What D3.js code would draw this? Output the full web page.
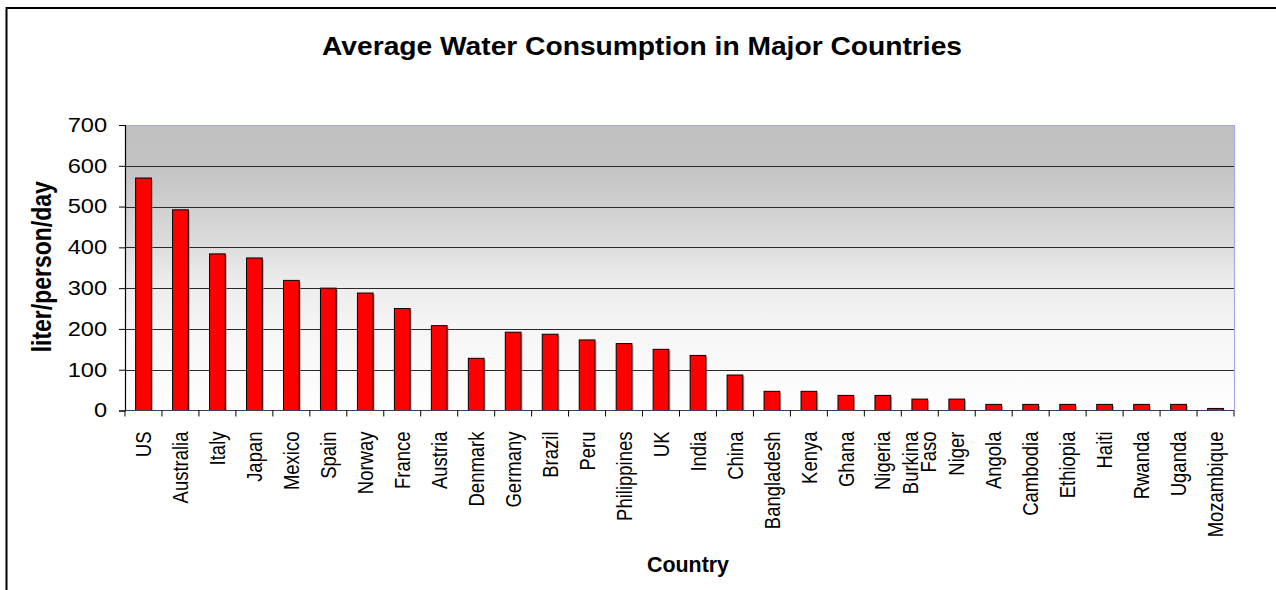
<!DOCTYPE html>
<html>
<head>
<meta charset="utf-8">
<script src="https://cdn.jsdelivr.net/npm/d3@7"></script>
<style>
  body { margin: 0; background: #fff; }
  svg { display: block; font-family: "Liberation Sans", Arial, sans-serif; }
</style>
</head>
<body>
<svg id="chart" width="1276" height="590"></svg>
<script>
// data
const countries = ['US', 'Australia', 'Italy', 'Japan', 'Mexico', 'Spain', 'Norway', 'France',
  'Austria', 'Denmark', 'Germany', 'Brazil', 'Peru', 'Philippines', 'UK', 'India', 'China',
  'Bangladesh', 'Kenya', 'Ghana', 'Nigeria', 'Burkina Faso', 'Niger', 'Angola', 'Cambodia',
  'Ethiopia', 'Haiti', 'Rwanda', 'Uganda', 'Mozambique'];
const litersPerDay = [570, 492, 384, 374, 319, 300, 288, 250, 208, 128, 192, 187, 173, 164,
  150, 135, 87, 47, 47, 37, 37, 28, 28, 15, 15, 15, 15, 15, 15, 5];
const yTicks = [0, 100, 200, 300, 400, 500, 600, 700];

const svg = d3.select('#chart');
const plot = {left: 125, right: 1234, top: 125, bottom: 410.5};
const stretch = 1.18; //the reference text looks a bit wide

//gradient for the plot area
const defs = svg.append('defs');
const grad = defs.append('linearGradient')
  .attr('id', 'bg')
  .attr('x1', 0).attr('y1', 0).attr('x2', 0).attr('y2', 1);
[[0, '#c0c0c0'], [0.15, '#c3c3c3'], [0.4, '#dadada'], [0.55, '#ececec'], [0.75, '#f7f7f7'], [1, '#fefefe']]
  .forEach(s => grad.append('stop').attr('offset', s[0]).attr('stop-color', s[1]));

//outer chart border
svg.append('rect')
  .attr('x', 6.5).attr('y', 8)
  .attr('width', 1290).attr('height', 620)
  .attr('fill', 'none')
  .attr('stroke', '#000')
  .attr('stroke-width', 2);

const x = d3.scaleBand()
  .domain(countries)
  .range([plot.left, plot.right])
  .paddingInner(0)
  .paddingOuter(0);

const y = d3.scaleLinear()
  .domain([0, 700])
  .range([plot.bottom, plot.top]);

svg.append('rect')
  .attr('x', plot.left).attr('y', plot.top)
  .attr('width', plot.right - plot.left)
  .attr('height', plot.bottom - plot.top)
  .attr('fill', 'url(#bg)');

//gridlines
svg.append('g')
  .selectAll('line')
  .data(yTicks.filter(d => d > 0 && d < 700))
  .join('line')
  .attr('x1', plot.left).attr('x2', plot.right)
  .attr('y1', d => Math.round(y(d)) + 0.5).attr('y2', d => Math.round(y(d)) + 0.5)
  .attr('stroke', '#2a2a2a')
  .attr('stroke-width', 1);

//plot area top and right edges (light blue)
svg.append('path')
  .attr('d', `M${plot.left},${plot.top + 0.5}H${plot.right + 0.5}V${plot.bottom}`)
  .attr('fill', 'none')
  .attr('stroke', '#a8a8f0')
  .attr('stroke-width', 1.2);

//bars
const barW = x.bandwidth() * 0.425;
const bars = svg.append('g');
bars.selectAll('rect.shadow')
  .data(countries)
  .join('rect')
  .attr('class', 'shadow')
  .attr('x', d => x(d) + (x.bandwidth() - barW) / 2 + 1.5)
  .attr('y', (d, i) => y(litersPerDay[i]) + 1.5)
  .attr('width', barW)
  .attr('height', (d, i) => plot.bottom - y(litersPerDay[i]) - 1.5)
  .attr('fill', '#8a8a8a')
  .attr('opacity', 0.7);
bars.selectAll('rect.bar')
  .data(countries)
  .join('rect')
  .attr('class', 'bar')
  .attr('x', d => x(d) + (x.bandwidth() - barW) / 2)
  .attr('y', (d, i) => y(litersPerDay[i]))
  .attr('width', barW)
  .attr('height', (d, i) => plot.bottom - y(litersPerDay[i]))
  .attr('fill', '#ff0000')
  .attr('stroke', '#000')
  .attr('stroke-width', 1);

//y axis
const yAxis = svg.append('g')
  .attr('transform', `translate(${plot.left},0)`)
  .call(d3.axisLeft(y).tickValues(yTicks).tickSize(6).tickPadding(12));
yAxis.select('.domain').attr('stroke', '#000').attr('stroke-width', 1.2);
yAxis.selectAll('.tick line').attr('stroke', '#000');
yAxis.selectAll('.tick text')
  .attr('font-size', 20)
  .attr('font-family', '"Liberation Sans", Arial, sans-serif')
  .attr('fill', '#000')
  .attr('lengthAdjust', 'spacingAndGlyphs')
  .each(function() {
    d3.select(this).attr('textLength', this.getComputedTextLength() * stretch);
  });

//x axis, ticks at category boundaries
const xAxis = svg.append('g')
  .attr('transform', `translate(0,${plot.bottom})`);
xAxis.append('line')
  .attr('x1', plot.left).attr('x2', plot.right)
  .attr('stroke', '#3c3c5a').attr('stroke-width', 1.2);
xAxis.selectAll('line.tick')
  .data(countries.concat(['_end']))
  .join('line')
  .attr('class', 'tick')
  .attr('x1', (d, i) => plot.left + i * x.step())
  .attr('x2', (d, i) => plot.left + i * x.step())
  .attr('y1', 0).attr('y2', 6)
  .attr('stroke', '#000');

//rotated category labels, multi word names wrap
const labels = xAxis.selectAll('text.lbl')
  .data(countries)
  .join('text')
  .attr('class', 'lbl')
  .attr('font-size', 18.5)
  .attr('text-anchor', 'end')
  .attr('fill', '#000')
  .attr('transform', d => `translate(${x(d) + x.bandwidth() / 2},21) rotate(-90) scale(1,${stretch})`);
labels.each(function(d) {
  const words = d.split(' ');
  const t = d3.select(this);
  const first = -(words.length - 1) * 0.45;
  words.forEach((w, k) => {
    t.append('tspan')
      .attr('x', 0)
      .attr('dy', k === 0 ? (first + 0.35) + 'em' : '0.85em')
      .text(w);
  });
});

//titles
svg.append('text')
  .attr('x', 642).attr('y', 55)
  .attr('text-anchor', 'middle')
  .attr('font-size', 25)
  .attr('font-weight', 'bold')
  .attr('textLength', 640)
  .attr('lengthAdjust', 'spacingAndGlyphs')
  .text('Average Water Consumption in Major Countries');

svg.append('text')
  .attr('transform', `translate(51,${(plot.top + plot.bottom) / 2 - 1}) rotate(-90) scale(1,${stretch})`)
  .attr('text-anchor', 'middle')
  .attr('font-size', 23)
  .attr('font-weight', 'bold')
  .text('liter/person/day');

svg.append('text')
  .attr('x', 688).attr('y', 572)
  .attr('text-anchor', 'middle')
  .attr('font-size', 22)
  .attr('font-weight', 'bold')
  .attr('textLength', 82)
  .attr('lengthAdjust', 'spacingAndGlyphs')
  .text('Country');
</script>
</body>
</html>
